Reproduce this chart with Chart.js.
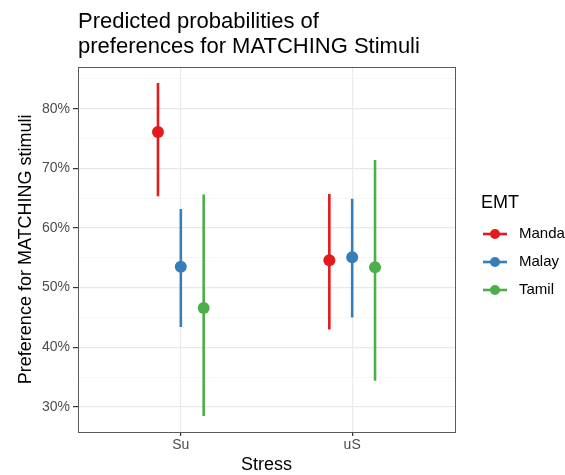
<!DOCTYPE html>
<html>
<head>
<meta charset="utf-8">
<script src="https://cdn.jsdelivr.net/npm/chart.js@4/dist/chart.umd.min.js"></script>
<style>
    html, body { margin: 0; padding: 0; background: #fff; overflow: hidden; }
    #wrap { width: 565px; height: 475px; }
</style>
</head>
<body>
<div id="wrap"><canvas id="predChart" width="565" height="475"></canvas></div>
<script>
// Stress conditions on the x axis, EMT groups dodged around each one
const stressLevels = ['Su', 'uS'];
const groups = ['Mandarin', 'Malay', 'Tamil'];
const groupColors = ['#E41A1C', '#377EB8', '#4DAF4A'];

// Predicted probability (%) with lower / upper interval bounds
const estMandarin = [76.1, 54.6];
const lowMandarin = [65.3, 43.0];
const highMandarin = [84.3, 65.7];

const estMalay = [53.5, 55.1];
const lowMalay = [43.4, 45.0];
const highMalay = [63.2, 64.9];

const estTamil = [46.6, 53.4];
const lowTamil = [28.5, 34.4];
const highTamil = [65.6, 71.4];

const yTicks = [30, 40, 50, 60, 70, 80];

const FONT = '"Liberation Sans", Arial, Helvetica, sans-serif';
const dodge = 0.4 / 3;

const series = [
    { est: estMandarin, low: lowMandarin, high: highMandarin },
    { est: estMalay, low: lowMalay, high: highMalay },
    { est: estTamil, low: lowTamil, high: highTamil }
];

// One interval dataset and one point dataset per group
const datasets = [];
series.forEach((s, g) => {
    const off = (g - 1) * dodge;
    const segs = [];
    stressLevels.forEach((lvl, i) => {
        const x = i + 1 + off;
        segs.push({ x: x, y: s.low[i] }, { x: x, y: s.high[i] }, { x: x, y: null });
    });
    datasets.push({
        label: groups[g] + ' interval',
        data: segs,
        showLine: true,
        spanGaps: false,
        borderColor: groupColors[g],
        borderWidth: 2.6,
        borderCapStyle: 'butt',
        pointRadius: 0,
        pointHoverRadius: 0
    });
    datasets.push({
        label: groups[g],
        data: stressLevels.map((lvl, i) => ({ x: i + 1 + off, y: s.est[i] })),
        showLine: false,
        backgroundColor: groupColors[g],
        borderColor: groupColors[g],
        pointRadius: 6,
        pointBorderWidth: 0,
        pointHoverRadius: 6
    });
});

// Panel frame drawn over the grid, like a bordered facet
const panelBorder = {
    id: 'panelBorder',
    afterDatasetsDraw(chart) {
        const { ctx, chartArea } = chart;
        ctx.save();
        ctx.strokeStyle = '#5a5a5a';
        ctx.lineWidth = 1;
        ctx.strokeRect(Math.round(chartArea.left) + 0.5, Math.round(chartArea.top) + 0.5,
            Math.round(chartArea.width), Math.round(chartArea.height));
        ctx.restore();
    }
};

// Legend with line-through-point keys, placed right of the panel
const emtLegend = {
    id: 'emtLegend',
    afterDraw(chart) {
        const { ctx, chartArea } = chart;
        const x0 = chartArea.right + 26;
        ctx.save();
        ctx.textBaseline = 'middle';
        ctx.fillStyle = '#000';
        ctx.font = '18px ' + FONT;
        ctx.fillText('EMT', x0, 203);
        ctx.font = '15px ' + FONT;
        groups.forEach((name, i) => {
            const y = 234 + i * 28;
            ctx.strokeStyle = groupColors[i];
            ctx.lineWidth = 2.6;
            ctx.beginPath();
            ctx.moveTo(x0 + 2, y);
            ctx.lineTo(x0 + 26, y);
            ctx.stroke();
            ctx.fillStyle = groupColors[i];
            ctx.beginPath();
            ctx.arc(x0 + 14, y, 5, 0, Math.PI * 2);
            ctx.fill();
            ctx.fillStyle = '#000';
            ctx.fillText(name, x0 + 38, y);
        });
        ctx.restore();
    }
};

new Chart(document.getElementById('predChart'), {
    type: 'scatter',
    data: { datasets: datasets },
    options: {
        responsive: false,
        animation: false,
        layout: {
            padding: { left: 0, right: 110, top: 0, bottom: 0 }
        },
        plugins: {
            legend: { display: false },
            tooltip: { enabled: false },
            title: {
                display: true,
                fullSize: false,
                align: 'start',
                text: ['Predicted probabilities of', 'preferences for MATCHING Stimuli'],
                color: '#000',
                font: { family: FONT, size: 22, weight: 'normal', lineHeight: 1.15 },
                padding: { top: 9, bottom: 7 }
            }
        },
        scales: {
            x: {
                type: 'linear',
                min: 0.4,
                max: 2.6,
                afterFit(scale) { scale.height = 43; },
                afterBuildTicks(scale) {
                    scale.ticks = stressLevels.map((lvl, i) => ({ value: i + 1 }));
                },
                ticks: {
                    color: '#4d4d4d',
                    font: { family: FONT, size: 14 },
                    padding: 1,
                    maxRotation: 0,
                    callback: (v) => stressLevels[Math.round(v) - 1] || ''
                },
                grid: {
                    color: '#ebebeb',
                    lineWidth: 1.2,
                    tickLength: 4,
                    tickColor: '#333'
                },
                border: { display: false },
                title: {
                    display: true,
                    text: 'Stress',
                    color: '#000',
                    font: { family: FONT, size: 18 },
                    padding: { top: 0, bottom: -1 }
                }
            },
            y: {
                type: 'linear',
                min: 25.8,
                max: 87.05,
                afterFit(scale) { scale.width = 78; },
                ticks: {
                    stepSize: 5,
                    includeBounds: false,
                    color: '#4d4d4d',
                    font: { family: FONT, size: 14 },
                    padding: 3,
                    callback: (v) => yTicks.includes(v) ? v + '%' : ''
                },
                grid: {
                    color: (c) => yTicks.includes(c.tick && c.tick.value) ? '#e8e8e8' : '#f3f3f3',
                    lineWidth: (c) => yTicks.includes(c.tick && c.tick.value) ? 1.2 : 0.7,
                    tickLength: 5,
                    tickColor: (c) => yTicks.includes(c.tick && c.tick.value) ? '#333' : 'rgba(0,0,0,0)'
                },
                border: { display: false },
                title: {
                    display: true,
                    text: 'Preference for MATCHING stimuli',
                    color: '#000',
                    font: { family: FONT, size: 18 },
                    padding: { top: 15, bottom: 0 }
                }
            }
        }
    },
    plugins: [panelBorder, emtLegend]
});
</script>
</body>
</html>
